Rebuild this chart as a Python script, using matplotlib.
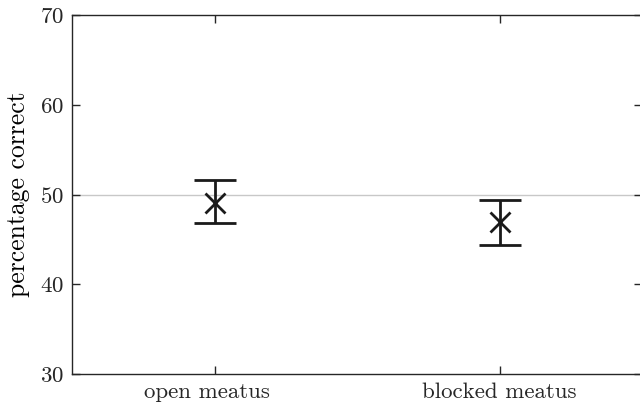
import matplotlib
matplotlib.use("Agg")
import matplotlib.pyplot as plt

# data
# (labels padded with spaces, like a MATLAB char array)
conditions = ["open meatus  ", "blocked meatus"]
mean_correct = [49.1, 46.9]
upper = [51.6, 49.4]
lower = [46.8, 44.4]

chance_level = 50
y_ticks = [30, 40, 50, 60, 70]

plt.rcParams["font.family"] = "cmr10"
plt.rcParams["axes.formatter.use_mathtext"] = True

fig = plt.figure(figsize=(6.4, 4.07), dpi=100)
ax = fig.add_axes([72 / 640, 1 - 374 / 407, 570 / 640, 359 / 407])

x = list(range(1, len(conditions) + 1))
err_lo = [m - l for m, l in zip(mean_correct, lower)]
err_hi = [u - m for m, u in zip(mean_correct, upper)]

ax.axhline(chance_level, color="#c8c8c8", lw=1.0, zorder=1)
ax.errorbar(x, mean_correct, yerr=[err_lo, err_hi], fmt="x", color="#1a1a1a",
            ms=15, mew=2.0, elinewidth=2.0, capsize=15, capthick=2.0, zorder=3)

ax.set_xlim(0.5, 2.5)
ax.set_ylim(30, 70)
ax.set_xticks(x)
ax.set_xticklabels(conditions)
ax.set_yticks(y_ticks)
ax.set_ylabel("percentage correct", fontsize=18.5, labelpad=7)

ax.tick_params(direction="in", length=6, width=1.0, top=True, right=True,
               colors="#262626", labelcolor="#262626", labelsize=16.5, pad=6)
for s in ax.spines.values():
    s.set_color("#262626")
    s.set_linewidth(1.0)

fig.savefig("out.png", dpi=100)
